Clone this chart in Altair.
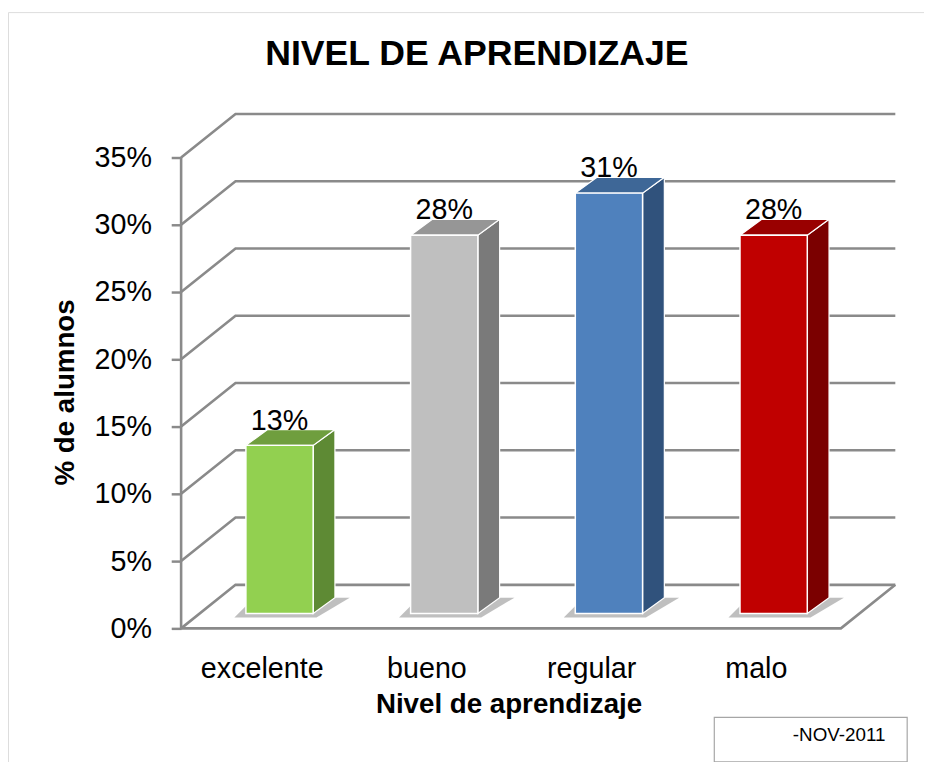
import json
import altair as alt
import pandas as pd

# ---------------- data ----------------
categories = ["excelente", "bueno", "regular", "malo"]
values = [12.5, 28.125, 31.25, 28.125]          # % de alumnos
front_colors = ["#92D050", "#BFBFBF", "#4F81BD", "#C00000"]
side_colors = ["#5E8A34", "#7A7A7A", "#30527C", "#7B0000"]
top_colors = ["#6F9E3E", "#969696", "#3E6797", "#990000"]
tick_values = [0, 5, 10, 15, 20, 25, 30, 35]
title_text = "NIVEL DE APRENDIZAJE"
x_title = "Nivel de aprendizaje"
y_title = "% de alumnos"
note_text = "-NOV-2011"

# ---------------- layout (style) ----------------
W, H = 926, 760
PX_PER_PCT = 13.6
Y0_PX = 623.0          # 0 % on the front edge
PX_PER_CAT = 166.5
X0_PX = 274.5          # first category centre
y_domain = [(Y0_PX - H) / PX_PER_PCT, Y0_PX / PX_PER_PCT]
x_domain = [-X0_PX / PX_PER_CAT, (W - X0_PX) / PX_PER_CAT]

WALL_DX = 55 / PX_PER_CAT
WALL_DY = 44 / PX_PER_PCT
LEFT = (175 - X0_PX) / PX_PER_CAT
RIGHT_BACK = (897 - X0_PX) / PX_PER_CAT
BAR_HALF = 34.0 / PX_PER_CAT
BAR_DX = 22 / PX_PER_CAT
BAR_DY = 16 / PX_PER_PCT
BAR_BASE = 15 / PX_PER_PCT

FONT = "Liberation Sans"
GRID = "#8a8a8a"

label_expr = json.dumps(categories) + "[datum.value]"

xa = alt.Axis(values=list(range(len(categories))), labelExpr=label_expr,
              orient="bottom", offset=-(H - Y0_PX), domain=False, ticks=False,
              grid=False, labelFontSize=29, labelFont=FONT, labelColor="black",
              labelPadding=27, labelOffset=-18, labelBaseline="top",
              title=x_title, titleFont=FONT, titleFontSize=28, titleFontWeight="bold",
              titleColor="black", titleX=506, titleY=85, titleBaseline="alphabetic",
              titleAlign="center", titleAnchor="start")
ya = alt.Axis(values=tick_values, labelExpr="datum.value + '%'", orient="left",
              offset=-175, domain=False, ticks=True, tickSize=10, tickColor=GRID,
              tickWidth=2.5, grid=False, labelFontSize=29, labelFont=FONT,
              labelColor="black", labelPadding=20,
              title=y_title, titleFont=FONT, titleFontSize=28, titleFontWeight="bold",
              titleColor="black", titleX=-117, titleY=384, titleAngle=270,
              titleBaseline="middle", titleAlign="center", titleAnchor="start")

xs = alt.Scale(domain=x_domain, nice=False, zero=False)
ys = alt.Scale(domain=y_domain, nice=False, zero=False)


def X(f):
    return alt.X(f, type="quantitative", scale=xs, axis=xa)


def Y(f):
    return alt.Y(f, type="quantitative", scale=ys, axis=ya)


# ---------------- derived tables ----------------
grid_rows = []
for t in tick_values:
    grid_rows += [
        {"g": t, "o": 0, "x": LEFT, "y": t},
        {"g": t, "o": 1, "x": LEFT + WALL_DX, "y": t + WALL_DY},
        {"g": t, "o": 2, "x": RIGHT_BACK, "y": t + WALL_DY},
    ]
grid_df = pd.DataFrame(grid_rows)

edge_df = pd.DataFrame([
    {"g": "floor", "o": 0, "x": LEFT, "y": 0},
    {"g": "floor", "o": 1, "x": RIGHT_BACK - WALL_DX, "y": 0},
    {"g": "floor", "o": 2, "x": RIGHT_BACK, "y": WALL_DY},
    {"g": "wall", "o": 0, "x": LEFT, "y": 0},
    {"g": "wall", "o": 1, "x": LEFT, "y": tick_values[-1]},
])

front_rows, side_rows, top_rows, shadow_rows = [], [], [], []
for i, (c, v) in enumerate(zip(categories, values)):
    top = BAR_BASE + v
    front_rows.append({"cat": c, "x": i - BAR_HALF, "x2": i + BAR_HALF,
                       "y": BAR_BASE, "y2": top, "col": front_colors[i],
                       "i": i, "v": v, "ly": top + BAR_DY})
    side_rows += [
        {"cat": c, "x": i + BAR_HALF, "y": BAR_BASE, "y2": top, "col": side_colors[i]},
        {"cat": c, "x": i + BAR_HALF + BAR_DX, "y": BAR_BASE + BAR_DY,
         "y2": top + BAR_DY, "col": side_colors[i]},
    ]
    top_rows += [
        {"cat": c, "y": top, "x": i - BAR_HALF, "x2": i + BAR_HALF, "col": top_colors[i]},
        {"cat": c, "y": top + BAR_DY, "x": i - BAR_HALF + BAR_DX,
         "x2": i + BAR_HALF + BAR_DX, "col": top_colors[i]},
    ]
    shadow_rows += [
        {"cat": c, "y": BAR_BASE - 0.3, "x": i - BAR_HALF - 0.07, "x2": i + BAR_HALF + 0.02},
        {"cat": c, "y": BAR_BASE + BAR_DY, "x": i - BAR_HALF + 0.05,
         "x2": i + BAR_HALF + BAR_DX + 0.09},
    ]
front_df = pd.DataFrame(front_rows)
side_df = pd.DataFrame(side_rows)
top_df = pd.DataFrame(top_rows)
shadow_df = pd.DataFrame(shadow_rows)

# ---------------- layers ----------------
grid = alt.Chart(grid_df).mark_line(color=GRID, strokeWidth=2.6).encode(
    x=X("x"), y=Y("y"), detail="g:N", order="o:Q")
edges = alt.Chart(edge_df).mark_line(color=GRID, strokeWidth=2.6).encode(
    x=X("x"), y=Y("y"), detail="g:N", order="o:Q")
shadow = alt.Chart(shadow_df).mark_area(orient="horizontal", color="#707070",
                                         opacity=0.45).encode(
    y=Y("y"), x=X("x"), x2="x2", detail="cat:N")
side = alt.Chart(side_df).mark_area(stroke="white", strokeWidth=1.2).encode(
    x=X("x"), y=Y("y"), y2="y2", detail="cat:N",
    color=alt.Color("col:N", scale=None))
topf = alt.Chart(top_df).mark_area(orient="horizontal", stroke="white",
                                    strokeWidth=1.2).encode(
    y=Y("y"), x=X("x"), x2="x2", detail="cat:N",
    color=alt.Color("col:N", scale=None))
front = alt.Chart(front_df).mark_rect(stroke="white", strokeWidth=1.5).encode(
    x=X("x"), x2="x2", y=Y("y"), y2="y2",
    color=alt.Color("col:N", scale=None))
labels = alt.Chart(front_df).transform_calculate(
    lab="format(datum.v, '.0f') + '%'"
).mark_text(font=FONT, fontSize=29, color="black", baseline="alphabetic",
            align="center", dy=0).encode(
    x=X("i"), y=Y("ly"), text="lab:N")

note_box = alt.Chart(pd.DataFrame({"t": [note_text]})).mark_rect(
    fill="white", stroke="#a6a6a6", strokeWidth=1.2).encode(
    x=alt.value(714), x2=alt.value(909), y=alt.value(713), y2=alt.value(758))
note = alt.Chart(pd.DataFrame({"t": [note_text]})).mark_text(
    font=FONT, fontSize=19, color="black", align="right", baseline="middle").encode(
    x=alt.value(887), y=alt.value(731), text="t:N")

chart = alt.layer(grid, edges, shadow, side, topf, front, labels, note_box, note).properties(
    width=W, height=H,
    title=alt.TitleParams(title_text, font=FONT, fontSize=36, fontWeight="bold",
                          color="black", anchor="middle", baseline="alphabetic",
                          offset=0, dy=89, dx=11),
    autosize=alt.AutoSizeParams(type="none"),
    padding=0,
).configure_view(stroke="#8c8c8c", strokeWidth=1.5).configure(background="white")

chart.save("out.html", embed_options={"renderer": "svg", "actions": False})
